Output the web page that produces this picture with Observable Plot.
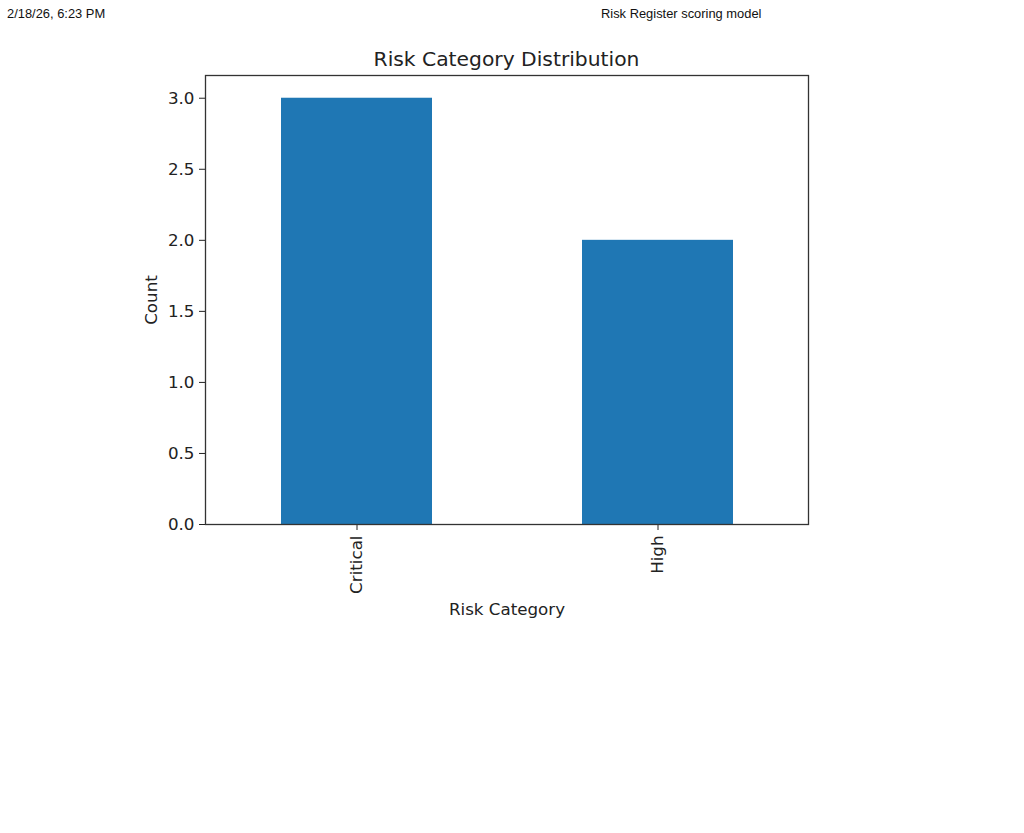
<!DOCTYPE html>
<html>
<head>
<meta charset="utf-8">
<script src="https://cdn.jsdelivr.net/npm/d3@7"></script>
<script src="https://cdn.jsdelivr.net/npm/@observablehq/plot@0.6"></script>
<style>
  html, body { margin: 0; padding: 0; background: #fff; }
  #page { position: relative; width: 1024px; height: 833px; overflow: hidden; background: #fff; }
  .hdr { position: absolute; top: 6px; font-family: "Liberation Sans", Arial, sans-serif; font-size: 12.9px; color: #111; white-space: nowrap; }
  #title { position: absolute; left: 0; width: 1013px; top: 47px; text-align: center; font-family: "DejaVu Sans", sans-serif; font-size: 20.3px; color: #222; }
  #chart { position: absolute; left: 0; top: 0; }
</style>
</head>
<body>
<div id="page">
  <div class="hdr" id="date" style="left:7px;">2/18/26, 6:23 PM</div>
  <div class="hdr" id="doc" style="left:601px;">Risk Register scoring model</div>
  <div id="title">Risk Category Distribution</div>
  <div id="chart"></div>
</div>
<script>
const categories = ["Critical", "High"];
const counts = [3, 2];
const yTicks = [0, 0.5, 1.0, 1.5, 2.0, 2.5, 3.0];
const xLabel = "Risk Category";
const yLabel = "Count";

const data = categories.map((c, i) => ({category: c, count: counts[i]}));
const font = "DejaVu Sans, sans-serif";
const fs = 16.7;

const plot = Plot.plot({
  width: 1024,
  height: 640,
  marginLeft: 205,
  marginRight: 216,
  marginTop: 75,
  marginBottom: 116,
  style: {fontFamily: font, fontSize: fs + "px", color: "#222", background: "transparent"},
  x: {domain: categories, paddingInner: 0.5, paddingOuter: 0.25, align: 0.5},
  y: {domain: [0, 3.16]},
  marks: [
    Plot.barY(data, {x: "category", y: "count", fill: "#1f77b4"}),
    Plot.axisY({ticks: yTicks, tickFormat: d3.format(".1f"), tickSize: 6, tickPadding: 5, label: null, fontSize: fs, stroke: "#222"}),
    Plot.axisX({tickSize: 6, tickPadding: 5, tickRotate: -90, label: null, fontSize: fs, stroke: "#222"}),
    Plot.frame({stroke: "#333", strokeWidth: 1.3}),
    Plot.text([yLabel], {frameAnchor: "left", dx: -54, rotate: -90, textAnchor: "middle", lineAnchor: "middle", fontSize: fs, fill: "#222", text: d => d}),
    Plot.text([xLabel], {frameAnchor: "bottom", dy: 85, textAnchor: "middle", lineAnchor: "middle", fontSize: fs, fill: "#222", text: d => d})
  ]
});
document.getElementById("chart").appendChild(plot);
</script>
</body>
</html>
